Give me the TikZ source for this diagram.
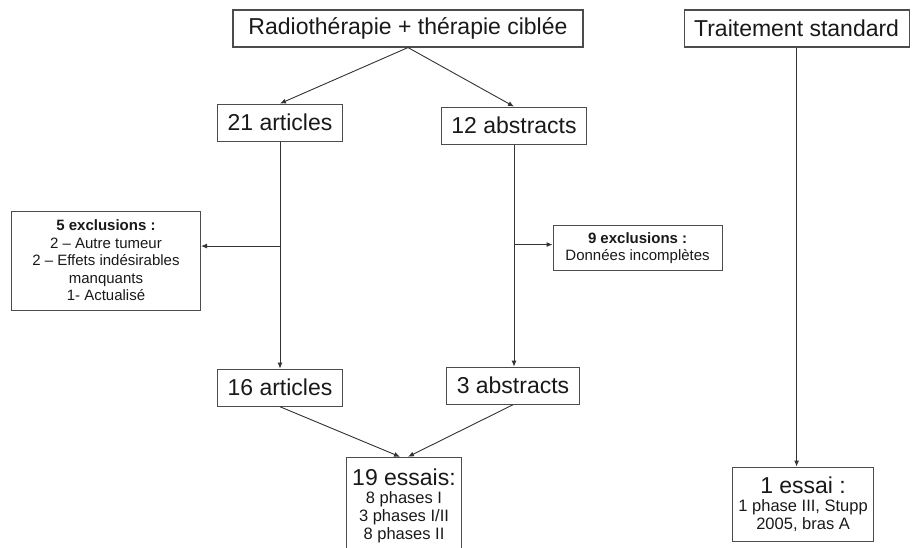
\documentclass[tikz,border=0pt]{standalone}
\usepackage{fontspec}
\setmainfont{Liberation Sans}
\usetikzlibrary{arrows.meta,positioning,calc}

\begin{document}
\begin{tikzpicture}[
x=1pt,y=1pt,
node distance=56pt and 100pt,
box/.style={draw=black!70,line width=1.1pt,text=black!90,inner xsep=10pt,inner ysep=4pt,minimum height=37pt,font=\fontsize{23}{27}\selectfont},
note/.style={draw=black!70,line width=1.1pt,text=black!90,align=center,inner xsep=6pt,inner ysep=9pt,font=\fontsize{15}{17.5}\selectfont},
res/.style={draw=black!70,line width=1.1pt,text=black!90,align=center,inner xsep=6pt,inner ysep=10pt,font=\fontsize{16.5}{18}\selectfont},
arr/.style={-{Latex[length=6pt,width=5pt]},line width=0.9pt,color=black!80}
]
\useasboundingbox (0,0) rectangle (914,-547);
\clip (0,0) rectangle (914,-547);
\node[box,minimum width=350pt] (radio) at (408,-28.5) {Radiothérapie + thérapie ciblée};
\node[box,right=100pt of radio] (std) {Traitement standard};
\node[box,below=56pt of radio,xshift=-128pt] (a21) {21 articles};
\node[box,below=59pt of radio,xshift=106pt] (ab12) {12 abstracts};
\node[box,below=227pt of a21] (a16) {16 articles};
\node[box,below=222pt of ab12,xshift=-1pt] (ab3) {3 abstracts};
\node[res,below=50pt of a16,xshift=124pt,inner ysep=12pt] (ess19)
  {{\fontsize{23}{27}\selectfont 19 essais:}\\ 8 phases I\\ 3 phases I/II\\ 8 phases II\\[4pt]};
\node[res,below=419pt of std,xshift=6.5pt] (e1)
  {{\fontsize{23}{27}\selectfont 1 essai :}\\ 1 phase III, Stupp\\ 2005, bras A};
\coordinate (c21) at ($(a21.south)!0.46!(a16.north)$);
\coordinate (c12) at ($(ab12.south)!0.45!(ab3.north)$);
\node[note,minimum width=189pt,left=79pt of c21,yshift=-14.5pt] (ex5)
  {\textbf{5 exclusions :}\\ 2 -- Autre tumeur\\ 2 -- Effets indésirables\\ manquants\\ 1- Actualisé};
\node[note,minimum width=169pt,right=39pt of c12,yshift=-3.5pt,inner ysep=7pt] (ex9)
  {\textbf{9 exclusions :}\\ Données incomplètes};
% arrows
\draw[arr] (radio.south) -- (a21.north);
\draw[arr] (radio.south) -- (ab12.north);
\draw[arr] (a21) -- (a16);
\draw[arr] (ab12) -- (ab12 |- ab3.north);
\draw[arr] (c21) -- (c21 -| ex5.east);
\draw[arr] (c12) -- (c12 -| ex9.west);
\draw[arr] (a16.south) -- ([xshift=-4pt]ess19.north);
\draw[arr] (ab3.south) -- ([xshift=4pt]ess19.north);
\draw[arr] (std) -- (std |- e1.north);
\end{tikzpicture}
\end{document}
